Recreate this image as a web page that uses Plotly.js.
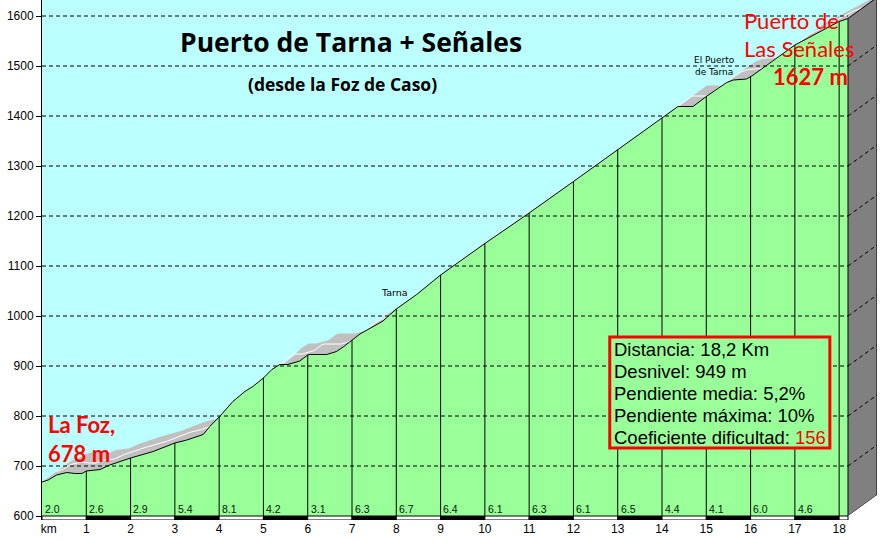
<!DOCTYPE html>
<html>
<head>
<meta charset="utf-8">
<script src="https://cdn.plot.ly/plotly-3.0.1.min.js"></script>
<style>
  body { margin: 0; background: #fff; }
  #plot { width: 885px; height: 541px; }
</style>
</head>
<body>
<div id="plot"></div>
<script>
// profile: distance (km) and altitude (m)
var kmPts = [0, 0.14, 0.33, 0.56, 0.74, 0.9, 1.0, 1.31, 1.53, 2.0, 2.51, 2.82, 3.0, 3.27, 3.64, 3.79,
  4.0, 4.31, 4.58, 4.76, 5.0, 5.19, 5.37, 5.55, 5.82, 6.0, 6.05, 6.43, 6.65, 6.8, 7.0, 7.18, 7.7,
  8.0, 8.46, 9.0, 10.0, 11.0, 12.0, 13.0, 14.0, 14.36, 14.7, 15.0, 15.46, 15.61, 15.91, 16.0, 16.06,
  17.0, 18.0, 18.2];
var elevPts = [668, 672, 682, 687, 685, 685, 690, 693, 702, 716, 729, 739, 746, 752, 763, 779,
  798, 829, 849, 859, 876, 893, 903, 903, 910, 922, 923, 923, 929, 938, 952, 964, 990,
  1014, 1043, 1082, 1145, 1206, 1269, 1333, 1397, 1419, 1419, 1439, 1467, 1472, 1474, 1478, 1482,
  1542, 1589, 1595];

// slope of every kilometre (%)
var grades = [2.0, 2.6, 2.9, 5.4, 8.1, 4.2, 3.1, 6.3, 6.7, 6.4, 6.1, 6.3, 6.1, 6.5, 4.4, 4.1, 6.0, 4.6];

var kmTicks = [1, 2, 3, 4, 5, 6, 7, 8, 9, 10, 11, 12, 13, 14, 15, 16, 17, 18];
var altTicks = [600, 700, 800, 900, 1000, 1100, 1200, 1300, 1400, 1500, 1600];

var infoLines = ["Distancia: 18,2 Km", "Desnivel: 949 m", "Pendiente media: 5,2%",
  "Pendiente máxima: 10%", "Coeficiente dificultad: "];
var difficulty = 156;

// 3d look: depth of the extruded profile
var dk = 0.6546, dm = 42;
var yBase = 600, yFloor = 592, yTop = 1632;
var kmEnd = kmPts[kmPts.length - 1];
var altEnd = elevPts[elevPts.length - 1];

var sky = '#BBFFFF', green = '#99FF99';

function altAt(k) {
  for (var i = 1; i < kmPts.length; i++) {
    if (k <= kmPts[i]) {
      var t = (k - kmPts[i - 1]) / (kmPts[i] - kmPts[i - 1]);
      return elevPts[i - 1] + t * (elevPts[i] - elevPts[i - 1]);
    }
  }
  return altEnd;
}

// top face (back edge shifted by depth)
var backX = [0, 0], backY = [yBase, elevPts[0]];
kmPts.forEach(function (k, i) { backX.push(k + dk); backY.push(elevPts[i] + dm); });
backX.push(kmEnd + dk, kmEnd); backY.push(yBase + dm, yBase);

var midX = kmPts.map(function (k) { return k + dk / 2; });
var midY = elevPts.map(function (e) { return e + dm / 2; });

var vx = [], vy = [];
kmTicks.forEach(function (k) { vx.push(k, k, null); vy.push(yBase, altAt(k), null); });

var data = [
  { x: backX, y: backY, type: 'scatter', mode: 'lines', fill: 'toself',
    fillcolor: '#C0C0C0', line: { width: 0, color: '#C0C0C0' }, hoverinfo: 'skip' },
  { x: midX, y: midY, type: 'scatter', mode: 'lines',
    line: { width: 1, color: '#FFFFFF' }, hoverinfo: 'skip' },
  { x: kmPts, y: elevPts, type: 'scatter', mode: 'lines', fill: 'tozeroy',
    fillcolor: green, line: { width: 1, color: '#000000' } },
  { x: vx, y: vy, type: 'scatter', mode: 'lines',
    line: { width: 1, color: '#000000' }, hoverinfo: 'skip' },
  // side wall
  { x: [kmEnd, kmEnd, kmEnd + dk, kmEnd + dk, kmEnd], y: [yBase, altEnd, altEnd + dm, yBase + dm, yBase],
    type: 'scatter', mode: 'lines', fill: 'toself', fillcolor: '#808080',
    line: { width: 1, color: '#000000' }, hoverinfo: 'skip' },
  { x: [kmEnd, kmEnd, kmEnd + dk, kmEnd + dk, kmEnd], y: [yFloor, yBase, yBase + dm, yFloor, yFloor],
    type: 'scatter', mode: 'lines', fill: 'toself', fillcolor: '#FFFFFF',
    line: { width: 0, color: '#FFFFFF' }, hoverinfo: 'skip' }
];

var shapes = [];
altTicks.forEach(function (e) {
  if (e === yBase) return;
  shapes.push({ type: 'line', xref: 'x', yref: 'y', x0: 0, x1: kmEnd, y0: e, y1: e,
    line: { color: '#000', width: 1, dash: '4px,3px' } });
  if (e < altEnd) {
    shapes.push({ type: 'line', xref: 'x', yref: 'y', x0: kmEnd, x1: kmEnd + dk, y0: e, y1: e + dm,
      line: { color: '#000', width: 1, dash: '4px,3px' } });
  }
});
// km bar
grades.forEach(function (g, i) {
  shapes.push({ type: 'rect', xref: 'x', yref: 'y', x0: i, x1: i + 1, y0: yFloor, y1: yBase,
    fillcolor: i % 2 ? '#000' : '#FFF', line: { color: '#000', width: 1 } });
});
shapes.push({ type: 'rect', xref: 'x', yref: 'y', x0: grades.length, x1: kmEnd, y0: yFloor, y1: yBase,
  fillcolor: grades.length % 2 ? '#000' : '#FFF', line: { color: '#000', width: 1 } });
// info box
shapes.push({ type: 'rect', xref: 'x', yref: 'y', x0: 12.82, x1: 17.79, y0: 736, y1: 958,
  fillcolor: green, line: { color: '#FF0000', width: 3 } });

var annotations = [
  { x: 6.975, y: 1548, text: '<b>Puerto de Tarna + Señales</b>', showarrow: false,
    font: { family: 'Open Sans', size: 26.5, color: '#000' } },
  { x: 6.79, y: 1464, text: '<b>(desde la Foz de Caso)</b>', showarrow: false,
    font: { family: 'Open Sans', size: 17.5, color: '#000' } },
  { x: 0.1, y: 754, xanchor: 'left', align: 'left', text: '<b>La Foz,<br>678 m</b>', showarrow: false,
    font: { family: 'Lato', size: 22, color: '#FF0000' } },
  { x: 15.8, y: 1592, xanchor: 'left', text: 'Puerto de', showarrow: false,
    font: { family: 'Lato', size: 22, color: '#FF0000' } },
  { x: 15.8, y: 1536, xanchor: 'left', text: 'Las Señales', showarrow: false,
    font: { family: 'Lato', size: 22, color: '#FF0000' } },
  { x: 16.45, y: 1480, xanchor: 'left', text: '<b>1627 m</b>', showarrow: false,
    font: { family: 'Lato', size: 22, color: '#FF0000' } },
  { x: 7.97, y: 1048, text: 'Tarna', showarrow: false,
    font: { family: 'DejaVu Sans', size: 9.5, color: '#000' } },
  { x: 15.18, y: 1500, text: 'El Puerto<br>de Tarna', showarrow: false,
    font: { family: 'DejaVu Sans', size: 9, color: '#000' } }
];
// info box lines
infoLines.forEach(function (t, i) {
  var txt = i === infoLines.length - 1 ? t + '<span style="color:#FF0000">' + difficulty + '</span>' : t;
  annotations.push({ x: 12.86, y: 934 - i * 44, xanchor: 'left', showarrow: false, text: txt,
    font: { family: 'Liberation Sans', size: 18.5, color: '#000' } });
});
grades.forEach(function (g, i) {
  annotations.push({ x: i + 0.02, y: 614, xanchor: 'left', text: g.toFixed(1), showarrow: false,
    font: { family: 'Liberation Sans', size: 10.5, color: '#002200' } });
});

var layout = {
  width: 885, height: 541,
  margin: { l: 42, r: 8, t: 0, b: 21 },
  paper_bgcolor: '#FFFFFF',
  plot_bgcolor: sky,
  showlegend: false,
  xaxis: {
    range: [0, kmEnd + dk],
    tickvals: [0.15].concat(kmTicks),
    ticktext: ['km'].concat(kmTicks.map(String)),
    showgrid: false, zeroline: false, showline: false, ticks: '',
    tickfont: { family: 'Liberation Sans', size: 12, color: '#000' },
    fixedrange: true
  },
  yaxis: {
    range: [yFloor, yTop],
    tickvals: altTicks,
    showgrid: false, zeroline: false,
    showline: true, linecolor: '#000', linewidth: 1,
    ticks: 'outside', ticklen: 5, tickcolor: '#000',
    tickfont: { family: 'Liberation Sans', size: 12, color: '#000' },
    fixedrange: true
  },
  shapes: shapes,
  annotations: annotations
};

Plotly.newPlot('plot', data, layout, { staticPlot: true });
</script>
</body>
</html>
